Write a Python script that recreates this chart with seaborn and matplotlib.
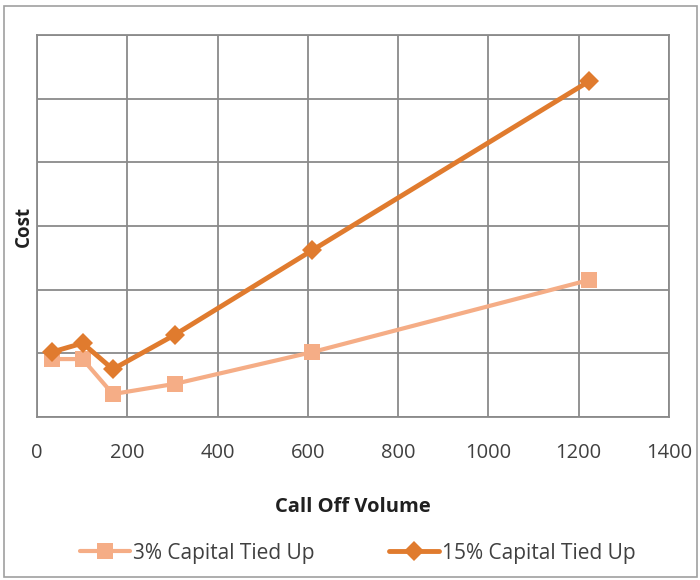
import matplotlib
matplotlib.use("Agg")
import matplotlib.pyplot as plt
from matplotlib.patches import Rectangle
import pandas as pd
import seaborn as sns

# Call-off volumes and relative cost for each capital tie-up rate
call_off_volume = [33, 101, 168, 305, 610, 1222]
cost_3pct = [0.91, 0.91, 0.36, 0.52, 1.02, 2.15]
cost_15pct = [1.02, 1.16, 0.75, 1.29, 2.62, 5.27]
series_names = ["3% Capital Tied Up", "15% Capital Tied Up"]
x_ticks = [0, 200, 400, 600, 800, 1000, 1200, 1400]

df = pd.concat([
    pd.DataFrame({"volume": call_off_volume, "cost": cost_3pct, "series": series_names[0]}),
    pd.DataFrame({"volume": call_off_volume, "cost": cost_15pct, "series": series_names[1]}),
])

sns.set_theme(style="white")
plt.rcParams["font.family"] = ["Open Sans", "DejaVu Sans"]

fig = plt.figure(figsize=(7, 5.8), dpi=100)
ax = fig.add_axes([37 / 700, 1 - 417 / 580, (669 - 37) / 700, (417 - 35) / 580])

palette = {series_names[0]: "#F5AD86", series_names[1]: "#E07B2E"}
markers = {series_names[0]: "s", series_names[1]: "D"}
widths = [3.0, 3.5]
msizes = [11.5, 10]
sns.lineplot(data=df, x="volume", y="cost", hue="series", style="series",
             palette=palette, markers=markers, dashes=False, ax=ax,
             linewidth=3, markersize=10, markeredgewidth=0, legend=False,
             sort=False)
for line, lw, ms in zip(ax.lines, widths, msizes):
    line.set_linewidth(lw)
    line.set_markersize(ms)

ax.set_xlim(0, 1400)
ax.set_ylim(0, 6)
ax.set_xticks(x_ticks)
ax.set_yticks(range(0, 7))
ax.set_yticklabels([])
ax.tick_params(axis="x", labelsize=14.5, colors="#404040", pad=19, length=0)
ax.tick_params(axis="y", length=0)
ax.grid(True, color="#8A8A8A", linewidth=1.3)
for s in ax.spines.values():
    s.set_color("#8A8A8A")
    s.set_linewidth(1.3)

ax.set_xlabel("Call Off Volume", fontsize=14.5, fontweight="bold", color="#202020", labelpad=24)
ax.set_ylabel("Cost", fontsize=13.5, fontweight="bold", color="#202020", labelpad=-1)

handles = [plt.Line2D([], [], color=palette[n], marker=markers[n], linewidth=lw,
                      markersize=ms, markeredgewidth=0)
           for n, lw, ms in zip(series_names, widths, msizes)]
fig.legend(handles, series_names, loc="center", bbox_to_anchor=(0.511, 1 - 553 / 580),
           ncol=2, frameon=False, fontsize=15, handlelength=2.4, handletextpad=0.15,
           columnspacing=3.6, labelcolor="#404040")

fig.add_artist(Rectangle((4 / 700, 3 / 580), 693 / 700, 571 / 580, transform=fig.transFigure,
                         fill=False, edgecolor="#A0A0A0", linewidth=1.2))

fig.savefig("out.png", dpi=100)
